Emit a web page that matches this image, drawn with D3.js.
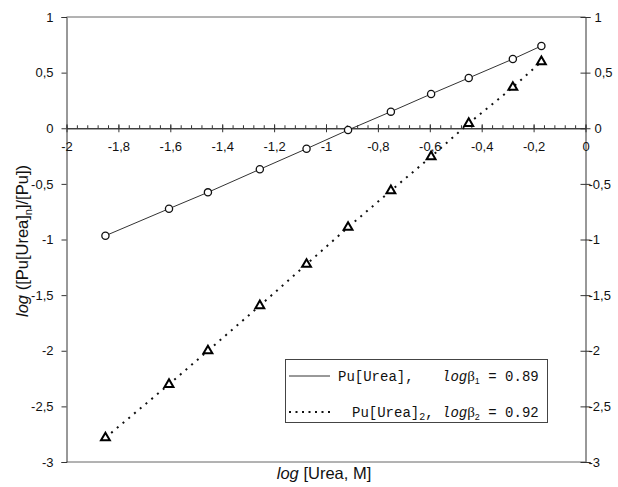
<!DOCTYPE html>
<html>
<head>
<meta charset="utf-8">
<script src="https://cdn.jsdelivr.net/npm/d3@7"></script>
<style>
  body { margin: 0; background: #fff; }
  svg { display: block; }
  text { font-family: Arial, "Liberation Sans", sans-serif; fill: #111; }
  .legend text { font-family: "Liberation Mono", "Courier New", monospace; }
</style>
</head>
<body>
<div id="chart"></div>
<script>
// log [Urea, M]
var logUrea = [-1.85, -1.605, -1.455, -1.255, -1.075, -0.915, -0.75, -0.595, -0.45, -0.28, -0.17];
// Pu[Urea] (circles, solid line)
var logRatio1 = [-0.966, -0.723, -0.576, -0.369, -0.184, -0.016, 0.149, 0.308, 0.452, 0.622, 0.74];
// Pu[Urea]2 (triangles, dotted line)
var logRatio2 = [-2.782, -2.302, -2.0, -1.595, -1.223, -0.89, -0.561, -0.256, 0.044, 0.368, 0.598];

var xTicks = [-2, -1.8, -1.6, -1.4, -1.2, -1, -0.8, -0.6, -0.4, -0.2, 0];
var yTicks = [1, 0.5, 0, -0.5, -1, -1.5, -2, -2.5, -3];

var width = 618, height = 487;
var fmt = function(d) { return String(d).replace(".", ","); };

var x = d3.scaleLinear().domain([-2, 0]).range([66.5, 585.5]);
var y = d3.scaleLinear().domain([-3, 1]).range([462, 17]);

var svg = d3.select("#chart").append("svg")
    .attr("width", width)
    .attr("height", height);

// frame top / bottom
svg.append("line").attr("x1", x(-2)).attr("x2", x(0)).attr("y1", y(1)).attr("y2", y(1))
    .attr("stroke", "#666").attr("stroke-width", 1);
svg.append("line").attr("x1", x(-2)).attr("x2", x(0)).attr("y1", y(-3)).attr("y2", y(-3))
    .attr("stroke", "#666").attr("stroke-width", 1);

// left axis
var left = svg.append("g").attr("transform", "translate(" + x(-2) + ",0)")
    .call(d3.axisLeft(y).tickValues(yTicks).tickFormat(fmt).tickSize(5).tickPadding(8));
// right axis
var right = svg.append("g").attr("transform", "translate(" + x(0) + ",0)")
    .call(d3.axisRight(y).tickValues(yTicks).tickFormat(fmt).tickSize(5).tickPadding(4));
right.selectAll(".tick line").attr("x1", -5);
right.selectAll(".tick text").attr("x", function(d) { return d < 0 ? 3 : 9; });

// x axis at y = 0, minor ticks every 0.04 pointing up
var minor = d3.range(-2, 0.001, 0.04);
svg.append("g").attr("transform", "translate(0," + y(0) + ")")
    .call(d3.axisTop(x).tickValues(minor).tickFormat("").tickSize(3).tickSizeOuter(0));
var xa = svg.append("g").attr("transform", "translate(0," + y(0) + ")")
    .call(d3.axisBottom(x).tickValues(xTicks).tickFormat(fmt).tickSize(4).tickPadding(10).tickSizeOuter(0));
xa.selectAll(".tick line").attr("y1", -4);

svg.selectAll(".domain").attr("stroke", "#333");
svg.selectAll(".tick line").attr("stroke", "#333");
svg.selectAll(".tick text").attr("font-size", 13).attr("font-family", "Arial, 'Liberation Sans', sans-serif").attr("fill", "#111");

// series lines
var line1 = d3.line().x(function(d, i) { return x(logUrea[i]); }).y(function(d) { return y(d); });
svg.append("path").datum(logRatio1).attr("d", line1)
    .attr("fill", "none").attr("stroke", "#333").attr("stroke-width", 1);
svg.append("path").datum(logRatio2).attr("d", line1)
    .attr("fill", "none").attr("stroke", "#111").attr("stroke-width", 2)
    .attr("stroke-dasharray", "2,5.5");

// markers
svg.selectAll(".c1").data(logRatio1).enter().append("circle")
    .attr("cx", function(d, i) { return x(logUrea[i]); })
    .attr("cy", function(d) { return y(d); })
    .attr("r", 3.6)
    .attr("fill", "#fff").attr("stroke", "#111").attr("stroke-width", 1.3);
svg.selectAll(".t2").data(logRatio2).enter().append("path")
    .attr("d", d3.symbol().type(d3.symbolTriangle).size(34))
    .attr("transform", function(d, i) { return "translate(" + x(logUrea[i]) + "," + y(d) + ")"; })
    .attr("fill", "#fff").attr("stroke", "#000").attr("stroke-width", 2);

// axis titles
var xt = svg.append("text").attr("x", 324).attr("y", 479).attr("text-anchor", "middle").attr("font-size", 16.5);
xt.append("tspan").attr("font-style", "italic").text("log");
xt.append("tspan").text(" [Urea, M]");

var yt = svg.append("text").attr("transform", "translate(28,241) rotate(-90)")
    .attr("text-anchor", "middle").attr("font-size", 16.5);
yt.append("tspan").attr("font-style", "italic").text("log");
yt.append("tspan").text("  ([Pu[Urea]");
yt.append("tspan").attr("font-size", 11).attr("dy", 4).text("n");
yt.append("tspan").attr("dy", -4).text("]/[Pu])");

// legend
var lg = svg.append("g").attr("class", "legend");
lg.append("rect").attr("x", 285.5).attr("y", 359.5).attr("width", 262).attr("height", 63)
    .attr("fill", "#fff").attr("stroke", "#444").attr("stroke-width", 1);
lg.append("line").attr("x1", 289).attr("x2", 330).attr("y1", 376).attr("y2", 376)
    .attr("stroke", "#333").attr("stroke-width", 1);
lg.append("line").attr("x1", 289).attr("x2", 330).attr("y1", 412).attr("y2", 412)
    .attr("stroke", "#111").attr("stroke-width", 2).attr("stroke-dasharray", "2,4.5");

var labels = [
  { y: 381, x: 338, name: "Pu[Urea]", sub: "", k: "1", v: "0.89" },
  { y: 417, x: 352, name: "Pu[Urea]", sub: "2", k: "2", v: "0.92" }
];
labels.forEach(function(l) {
  var t = lg.append("text").attr("x", l.x).attr("y", l.y).attr("font-size", 14);
  t.append("tspan").text(l.name);
  if (l.sub) {
    t.append("tspan").attr("font-size", 10).attr("dy", 3).text(l.sub);
    t.append("tspan").attr("dy", -3).text(",");
  } else {
    t.append("tspan").text(",");
  }
  var r = lg.append("text").attr("x", 442).attr("y", l.y).attr("font-size", 14);
  r.append("tspan").attr("font-style", "italic").text("log");
  r.append("tspan").attr("font-family", "'Liberation Serif', serif").attr("font-size", 15).text("β");
  r.append("tspan").attr("font-family", "Arial, sans-serif").attr("font-size", 9).attr("dy", 3).text(l.k);
  r.append("tspan").attr("dy", -3).text(" = " + l.v);
});
</script>
</body>
</html>
